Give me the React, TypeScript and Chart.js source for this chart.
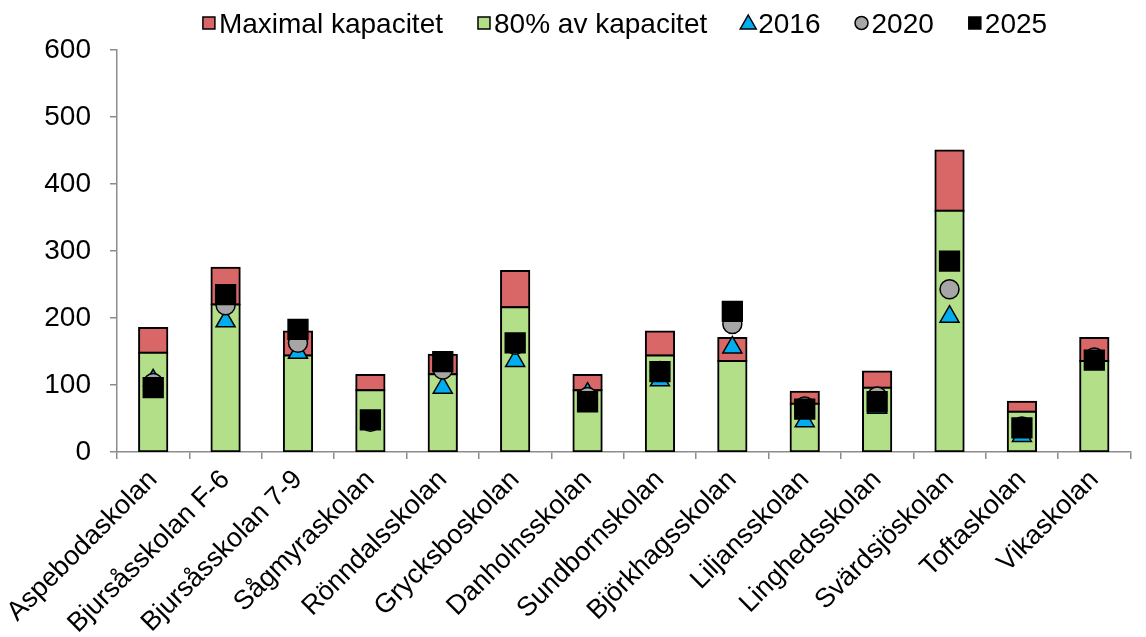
import React, { useEffect, useRef } from 'react';
import { Chart, registerables } from 'chart.js';

Chart.register(...registerables);

const categories = [
  'Aspebodaskolan',
  'Bjursåsskolan F-6',
  'Bjursåsskolan 7-9',
  'Sågmyraskolan',
  'Rönndalsskolan',
  'Grycksboskolan',
  'Danholnsskolan',
  'Sundbornskolan',
  'Björkhagsskolan',
  'Liljansskolan',
  'Linghedsskolan',
  'Svärdsjöskolan',
  'Toftaskolan',
  'Vikaskolan',
];

const maxCapacity = [185, 275, 180, 115, 145, 270, 115, 180, 170, 90, 120, 450, 75, 170];
const capacity80 = [148, 220, 144, 92, 116, 216, 92, 144, 136, 72, 96, 360, 60, 136];
const pupils2016 = [107, 195, 148, 45, 96, 136, 87, 107, 156, 46, 66, 202, 24, 137];
const pupils2020 = [103, 219, 163, 45, 123, 160, 82, 121, 191, 68, 83, 243, 38, 141];
const pupils2025 = [96, 235, 183, 48, 135, 163, 75, 120, 210, 64, 75, 285, 36, 137];

const yTicks = [0, 100, 200, 300, 400, 500, 600];

const FONT = '"Liberation Sans", Arial, sans-serif';
const RED = '#D96767';
const GREEN = '#B3DF88';
const BLUE = '#00AEEF';
const GRAY = '#A6A6A6';
const AXIS = '#8C8C8C';

const legendItems = [
  { label: 'Maximal kapacitet', shape: 'rect', color: RED },
  { label: '80% av kapacitet', shape: 'rect', color: GREEN },
  { label: '2016', shape: 'triangle', color: BLUE },
  { label: '2020', shape: 'circle', color: GRAY },
  { label: '2025', shape: 'rect', color: '#000000' },
];

const legendPlugin = {
  id: 'customLegend',
  afterDraw(chart: any) {
    const ctx = chart.ctx as CanvasRenderingContext2D;
    ctx.save();
    ctx.font = `28px ${FONT}`;
    ctx.textBaseline = 'alphabetic';
    ctx.textAlign = 'left';
    const markerW = 12;
    const gapIn = 4;
    const gapOut = 35;
    const widths = legendItems.map((it) => ctx.measureText(it.label).width);
    const total =
      widths.reduce((a, b) => a + b, 0) +
      legendItems.length * (markerW + gapIn) +
      (legendItems.length - 1) * gapOut;
    const cx = 625;
    let x = cx - total / 2;
    const cy = 23;
    const baseline = 33;
    legendItems.forEach((it, i) => {
      const mx = x + markerW / 2;
      ctx.lineWidth = 1.5;
      ctx.strokeStyle = '#000';
      ctx.fillStyle = it.color;
      ctx.beginPath();
      if (it.shape === 'rect') {
        ctx.rect(x, cy - 6, 12, 12);
      } else if (it.shape === 'circle') {
        ctx.arc(mx, cy, 6.5, 0, Math.PI * 2);
      } else {
        ctx.moveTo(mx, cy - 8);
        ctx.lineTo(mx + 8, cy + 6);
        ctx.lineTo(mx - 8, cy + 6);
        ctx.closePath();
      }
      ctx.fill();
      ctx.stroke();
      ctx.fillStyle = '#000';
      ctx.fillText(it.label, x + markerW + gapIn, baseline);
      x += markerW + gapIn + widths[i] + gapOut;
    });
    ctx.restore();
  },
};

export default function App() {
  const canvasRef = useRef<HTMLCanvasElement | null>(null);

  useEffect(() => {
    if (!canvasRef.current) return;
    Chart.defaults.font.family = FONT;
    const redPart = maxCapacity.map((m, i) => m - capacity80[i]);

    const pointCommon = {
      type: 'line' as const,
      showLine: false,
      borderColor: '#000000',
      borderWidth: 1.5,
      pointBorderWidth: 1.5,
      pointHoverRadius: 0,
    };

    const barCommon = {
      borderColor: '#000000',
      borderWidth: 2,
      borderSkipped: false,
      inflateAmount: 1,
      stack: 'cap',
      barPercentage: 0.39,
      categoryPercentage: 1,
    };

    const chart = new Chart(canvasRef.current, {
      type: 'bar',
      data: {
        labels: categories,
        datasets: [
          {
            ...barCommon,
            label: '80% av kapacitet',
            data: capacity80,
            backgroundColor: GREEN,
            order: 4,
          },
          {
            ...barCommon,
            label: 'Maximal kapacitet',
            data: redPart,
            backgroundColor: RED,
            order: 5,
          },
          {
            ...pointCommon,
            label: '2016',
            data: pupils2016,
            stack: 's2016',
            order: 3,
            pointStyle: 'triangle',
            pointRadius: 11,
            backgroundColor: BLUE,
            pointBackgroundColor: BLUE,
          },
          {
            ...pointCommon,
            label: '2020',
            data: pupils2020,
            stack: 's2020',
            order: 2,
            pointStyle: 'circle',
            pointRadius: 9.5,
            backgroundColor: GRAY,
            pointBackgroundColor: GRAY,
          },
          {
            ...pointCommon,
            label: '2025',
            data: pupils2025,
            stack: 's2025',
            order: 1,
            pointStyle: 'rect',
            pointRadius: 14,
            backgroundColor: '#000000',
            pointBackgroundColor: '#000000',
          },
        ] as any,
      },
      options: {
        animation: false,
        responsive: true,
        maintainAspectRatio: false,
        layout: { padding: { top: 50, left: 0, right: 0, bottom: 0 } },
        plugins: {
          legend: { display: false },
          tooltip: { enabled: false },
        },
        scales: {
          x: {
            stacked: true,
            grid: {
              drawOnChartArea: false,
              drawTicks: true,
              tickLength: 7,
              color: AXIS,
              lineWidth: 1.5,
              offset: true,
            },
            border: { display: true, color: AXIS, width: 1.5 },
            ticks: {
              color: '#000000',
              font: { size: 27 },
              minRotation: 45,
              maxRotation: 45,
              autoSkip: false,
              padding: 5,
            },
            afterFit: (scale: any) => {
              scale.height = 185;
              scale.paddingLeft = 0;
              scale.paddingRight = 0;
            },
          },
          y: {
            stacked: true,
            min: 0,
            max: 600,
            afterBuildTicks: (scale: any) => {
              scale.ticks = yTicks.map((v) => ({ value: v }));
            },
            grid: {
              drawOnChartArea: false,
              drawTicks: true,
              tickLength: 7,
              color: AXIS,
              lineWidth: 1.5,
            },
            border: { display: true, color: AXIS, width: 1.5 },
            ticks: {
              color: '#000000',
              font: { size: 28 },
              padding: 19,
            },
            afterFit: (scale: any) => {
              scale.width = 117;
            },
          },
        },
      },
      plugins: [legendPlugin],
    });

    return () => chart.destroy();
  }, []);

  return (
    <div style={{ position: 'fixed', left: 0, top: 0, width: 1146, height: 637, background: '#fff' }}>
      <canvas ref={canvasRef} />
    </div>
  );
}
